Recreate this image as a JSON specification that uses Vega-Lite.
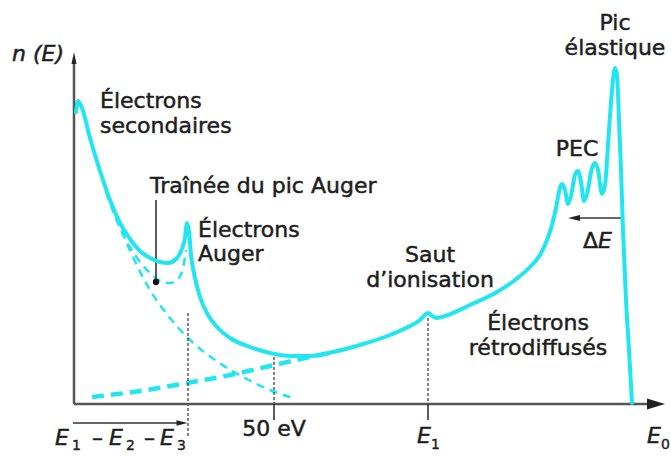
{
  "$schema": "https://vega.github.io/schema/vega-lite/v6.json",
  "width": 671,
  "height": 456,
  "padding": 0,
  "autosize": {"type": "none"},
  "background": "white",
  "config": {"view": {"stroke": null}},
  "datasets": {
    "main": [
      {"x": 2, "y": 292}, {"x": 4, "y": 303}, {"x": 8, "y": 296}, {"x": 16, "y": 266},
      {"x": 26, "y": 233}, {"x": 36, "y": 204}, {"x": 46, "y": 181}, {"x": 56, "y": 165},
      {"x": 66, "y": 153}, {"x": 76, "y": 146}, {"x": 86, "y": 142}, {"x": 94, "y": 141},
      {"x": 102, "y": 145}, {"x": 107, "y": 153}, {"x": 111, "y": 166}, {"x": 113, "y": 181},
      {"x": 115, "y": 172}, {"x": 117, "y": 149}, {"x": 121, "y": 126}, {"x": 126, "y": 107},
      {"x": 134, "y": 89}, {"x": 143, "y": 77}, {"x": 156, "y": 66}, {"x": 176, "y": 57},
      {"x": 196, "y": 51}, {"x": 216, "y": 48}, {"x": 236, "y": 48}, {"x": 259, "y": 52},
      {"x": 286, "y": 59}, {"x": 316, "y": 69}, {"x": 336, "y": 78}, {"x": 346, "y": 84},
      {"x": 351, "y": 89}, {"x": 354, "y": 91}, {"x": 358, "y": 88}, {"x": 363, "y": 86},
      {"x": 371, "y": 88}, {"x": 396, "y": 99}, {"x": 423, "y": 112}, {"x": 441, "y": 124},
      {"x": 456, "y": 137}, {"x": 466, "y": 149}, {"x": 473, "y": 164}, {"x": 478, "y": 179},
      {"x": 482, "y": 196}, {"x": 485, "y": 212}, {"x": 488, "y": 220}, {"x": 491, "y": 214},
      {"x": 494, "y": 200}, {"x": 497, "y": 208}, {"x": 501, "y": 229}, {"x": 504, "y": 233},
      {"x": 507, "y": 222}, {"x": 510, "y": 203}, {"x": 513, "y": 210}, {"x": 518, "y": 236},
      {"x": 521, "y": 241}, {"x": 524, "y": 234}, {"x": 528, "y": 210}, {"x": 531, "y": 219},
      {"x": 535, "y": 274}, {"x": 538, "y": 314}, {"x": 541, "y": 336}, {"x": 543, "y": 329},
      {"x": 545, "y": 284}, {"x": 547, "y": 234}, {"x": 549, "y": 174}, {"x": 552, "y": 104},
      {"x": 555, "y": 54}, {"x": 558, "y": 1}
    ],
    "dashSec": [
      {"x": 32, "y": 212}, {"x": 44, "y": 182}, {"x": 58, "y": 149}, {"x": 76, "y": 114},
      {"x": 96, "y": 86}, {"x": 116, "y": 64}, {"x": 141, "y": 44}, {"x": 171, "y": 26},
      {"x": 196, "y": 14}, {"x": 219, "y": 6}
    ],
    "dashAuger": [
      {"x": 32, "y": 212}, {"x": 46, "y": 176}, {"x": 61, "y": 149}, {"x": 76, "y": 131},
      {"x": 86, "y": 123}, {"x": 96, "y": 121}, {"x": 104, "y": 125}, {"x": 109, "y": 136},
      {"x": 112, "y": 154}
    ],
    "dashBack": [
      {"x": 18, "y": 7}, {"x": 66, "y": 13}, {"x": 113, "y": 21}, {"x": 156, "y": 29},
      {"x": 196, "y": 38}, {"x": 236, "y": 47}, {"x": 261, "y": 52}
    ],
    "axes": [
      {"x": 0, "y": 0, "x2": 0, "y2": 344},
      {"x": 0, "y": 0, "x2": 576, "y2": 0}
    ],
    "thinRules": [
      {"x": 200, "y": 0, "x2": 200, "y2": -16},
      {"x": 354, "y": 0, "x2": 354, "y2": -16},
      {"x": 82, "y": 204, "x2": 82, "y2": 122},
      {"x": -1, "y": -19, "x2": 106, "y2": -19},
      {"x": 500, "y": 186, "x2": 548, "y2": 186}
    ],
    "dashRules": [
      {"x": 114, "y": 91, "x2": 114, "y2": -33},
      {"x": 200, "y": 47, "x2": 200, "y2": 0},
      {"x": 354, "y": 86, "x2": 354, "y2": 0}
    ],
    "textLeft": [
      {"x": 26, "y": 296, "t": "Électrons"},
      {"x": 26, "y": 271, "t": "secondaires"},
      {"x": 76, "y": 211, "t": "Traînée du pic Auger"},
      {"x": 124, "y": 167, "t": "Électrons"},
      {"x": 124, "y": 143, "t": "Auger"},
      {"x": 18, "y": -41, "t": "–"},
      {"x": 70, "y": -41, "t": "–"},
      {"x": 509, "y": 156, "t": "Δ"}
    ],
    "textCenter": [
      {"x": 356, "y": 142, "t": "Saut"},
      {"x": 356, "y": 117, "t": "d’ionisation"},
      {"x": 464, "y": 74, "t": "Électrons"},
      {"x": 464, "y": 49, "t": "rétrodiffusés"},
      {"x": 503, "y": 248, "t": "PEC"},
      {"x": 541, "y": 374, "t": "Pic"},
      {"x": 541, "y": 349, "t": "élastique"},
      {"x": 200, "y": -32, "t": "50 eV"}
    ],
    "textItalic": [
      {"x": -62, "y": 343, "t": "n (E)"},
      {"x": 524, "y": 156, "t": "E"},
      {"x": -19, "y": -41, "t": "E"},
      {"x": 35, "y": -41, "t": "E"},
      {"x": 86, "y": -41, "t": "E"},
      {"x": 343, "y": -39, "t": "E"},
      {"x": 573, "y": -39, "t": "E"}
    ],
    "textSub": [
      {"x": -2, "y": -46, "t": "1"},
      {"x": 52, "y": -46, "t": "2"},
      {"x": 103, "y": -46, "t": "3"},
      {"x": 357, "y": -45, "t": "1"},
      {"x": 587, "y": -45, "t": "0"}
    ],
    "arrowUp": [{"x": 0, "y": 346}],
    "arrowRight": [{"x": 582, "y": 0}],
    "smallRight": [{"x": 108, "y": -19}],
    "smallLeft": [{"x": 500, "y": 186}],
    "dot": [{"x": 82, "y": 122}]
  },
  "encoding": {
    "x": {"field": "x", "type": "quantitative", "scale": {"domain": [-74, 597], "nice": false, "zero": false}, "axis": null},
    "y": {"field": "y", "type": "quantitative", "scale": {"domain": [-52, 404], "nice": false, "zero": false}, "axis": null}
  },
  "layer": [
    {"data": {"name": "dashBack"}, "mark": {"type": "line", "color": "#22e5f2", "strokeWidth": 4.5, "strokeDash": [12, 7], "interpolate": "monotone"}, "encoding": {}},
    {"data": {"name": "dashSec"}, "mark": {"type": "line", "color": "#22e5f2", "strokeWidth": 2.5, "strokeDash": [8, 6], "interpolate": "monotone"}, "encoding": {}},
    {"data": {"name": "dashAuger"}, "mark": {"type": "line", "color": "#22e5f2", "strokeWidth": 2.5, "strokeDash": [8, 6], "interpolate": "monotone"}, "encoding": {}},
    {"data": {"name": "dashRules"}, "mark": {"type": "rule", "color": "#333", "strokeWidth": 1.2, "strokeDash": [3, 2]}, "encoding": {"x2": {"field": "x2"}, "y2": {"field": "y2"}}},
    {"data": {"name": "axes"}, "mark": {"type": "rule", "color": "#555", "strokeWidth": 2.5}, "encoding": {"x2": {"field": "x2"}, "y2": {"field": "y2"}}},
    {"data": {"name": "thinRules"}, "mark": {"type": "rule", "color": "#333", "strokeWidth": 1.6}, "encoding": {"x2": {"field": "x2"}, "y2": {"field": "y2"}}},
    {"data": {"name": "main"}, "mark": {"type": "line", "color": "#22e5f2", "strokeWidth": 4, "interpolate": "monotone", "strokeJoin": "round", "strokeCap": "round"}, "encoding": {}},
    {"data": {"name": "arrowUp"}, "mark": {"type": "point", "filled": true, "color": "#222", "opacity": 1, "size": 144, "shape": "M0,-1L0.42,1L-0.42,1Z"}},
    {"data": {"name": "arrowRight"}, "mark": {"type": "point", "filled": true, "color": "#222", "opacity": 1, "size": 324, "shape": "M1,0L-1,0.6L-1,-0.6Z"}},
    {"data": {"name": "smallRight"}, "mark": {"type": "point", "filled": true, "color": "#222", "opacity": 1, "size": 121, "shape": "M1,0L-1,0.5L-1,-0.5Z"}},
    {"data": {"name": "smallLeft"}, "mark": {"type": "point", "filled": true, "color": "#222", "opacity": 1, "size": 144, "shape": "M-1,0L1,0.5L1,-0.5Z"}},
    {"data": {"name": "dot"}, "mark": {"type": "point", "filled": true, "color": "#111", "opacity": 1, "size": 40, "shape": "circle"}},
    {"data": {"name": "textLeft"}, "mark": {"type": "text", "align": "left", "baseline": "alphabetic", "font": "DejaVu Sans", "fontSize": 22, "color": "#1e1e1e", "stroke": "#1e1e1e", "strokeWidth": 0.5}, "encoding": {"text": {"field": "t"}}},
    {"data": {"name": "textCenter"}, "mark": {"type": "text", "align": "center", "baseline": "alphabetic", "font": "DejaVu Sans", "fontSize": 22, "color": "#1e1e1e", "stroke": "#1e1e1e", "strokeWidth": 0.5}, "encoding": {"text": {"field": "t"}}},
    {"data": {"name": "textItalic"}, "mark": {"type": "text", "align": "left", "baseline": "alphabetic", "font": "DejaVu Sans", "fontStyle": "italic", "fontSize": 22, "color": "#1e1e1e", "stroke": "#1e1e1e", "strokeWidth": 0.5}, "encoding": {"text": {"field": "t"}}},
    {"data": {"name": "textSub"}, "mark": {"type": "text", "align": "left", "baseline": "alphabetic", "font": "DejaVu Sans", "fontSize": 14, "color": "#1e1e1e", "stroke": "#1e1e1e", "strokeWidth": 0.4}, "encoding": {"text": {"field": "t"}}}
  ]
}
